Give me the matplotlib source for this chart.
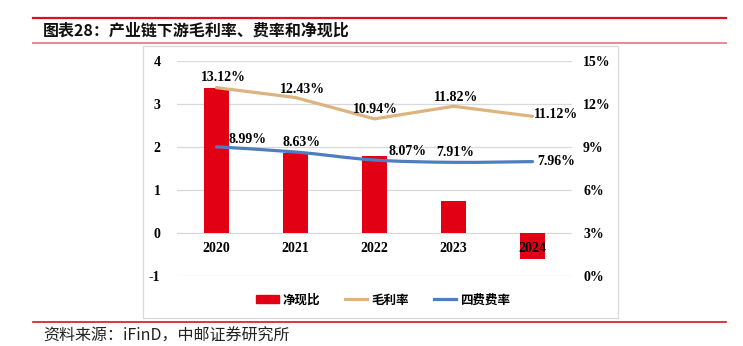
import matplotlib
matplotlib.use("Agg")
import matplotlib.pyplot as plt
from matplotlib.path import Path
from matplotlib.patches import PathPatch, Rectangle
from matplotlib.lines import Line2D
from matplotlib.patches import Patch
import numpy as np

# ---- data ----
years = ["2020", "2021", "2022", "2023", "2024"]
net_cash_ratio = [3.36, 1.86, 1.78, 0.73, -0.62]      # 净现比 (left axis)
gross_margin = [13.12, 12.43, 10.94, 11.82, 11.12]    # 毛利率 (%)
expense_rate = [8.99, 8.63, 8.07, 7.91, 7.96]         # 四费费率 (%)
left_ticks = [-1, 0, 1, 2, 3, 4]
right_ticks = [0, 3, 6, 9, 12, 15]

title = "图表28：产业链下游毛利率、费率和净现比"
source = "资料来源：iFinD，中邮证券研究所"

RED = "#E10014"
TAN = "#DDB47F"
BLUE = "#4E7EC0"
GRID = "#D9D9D9"
CJK = ["Noto Sans CJK SC", "DejaVu Sans"]
SERIF = "Liberation Serif"

W, H = 743, 346
fig = plt.figure(figsize=(W / 100, H / 100), dpi=100)

def fx(px):
    return px / W

def fy(py):
    return 1 - py / H

# header / footer decorations
fig.add_artist(Line2D([fx(33), fx(726)], [fy(17.5), fy(17.5)], color="#D0161E", lw=1.6))
fig.add_artist(Line2D([fx(33), fx(726)], [fy(43), fy(43)], color="#E58A8E", lw=1.4))
fig.add_artist(Line2D([fx(33), fx(726)], [fy(322), fy(322)], color="#D0161E", lw=1.2))
fig.text(fx(43), fy(31), title, family=CJK, fontsize=11.5, fontweight="bold",
         va="center", ha="left", color="#111111")
fig.text(fx(43), fy(336), source, family=CJK, fontsize=11.5, va="center",
         ha="left", color="#222222")

# chart box
fig.add_artist(Rectangle((fx(143), fy(318)), fx(618) - fx(143), fy(46) - fy(318),
                         fill=False, edgecolor="#D9D9D9", lw=0.9))

# axes
left, right = 177, 572
top, bottom = 60.7, 275.7
ax = fig.add_axes([fx(left), fy(bottom), fx(right) - fx(left), fy(top) - fy(bottom)])
ax2 = ax.twinx()

x = np.arange(len(years))
ax.set_xlim(-0.5, len(years) - 0.5)
ax.set_ylim(-1, 4)
ax2.set_ylim(0, 15)
ax.set_yticks(left_ticks)
ax.set_yticklabels([str(t) for t in left_ticks])
ax2.set_yticks(right_ticks)
ax2.set_yticklabels([f"{t}%" for t in right_ticks])
ax.set_xticks([])
for a in (ax, ax2):
    for s in a.spines.values():
        s.set_visible(False)
    a.patch.set_visible(False)
ax.tick_params(axis="y", length=0, pad=12)
ax2.tick_params(axis="y", length=0, pad=8)
for lab in ax.get_yticklabels() + ax2.get_yticklabels():
    lab.set_fontfamily(SERIF)
    lab.set_fontweight("bold")
    lab.set_fontsize(10)
for t in left_ticks:
    ax.axhline(t, color=GRID, lw=0.9, zorder=0)

ax.bar(x, net_cash_ratio, width=0.31, color=RED, zorder=2)

for i, yr in enumerate(years):
    ax.annotate(yr, (i, 0), xytext=(0, -11.5), textcoords="offset points",
                ha="center", va="center", fontfamily=SERIF, fontweight="bold",
                fontsize=10, zorder=5, annotation_clip=False)

# 毛利率: straight segments
ax2.plot(x, gross_margin, color=TAN, lw=2.3, solid_capstyle="round", zorder=3)

# 四费费率: smoothed line (Bezier through data points)
pts = np.column_stack([x, expense_rate]).astype(float)
verts = [tuple(pts[0])]
codes = [Path.MOVETO]
n = len(pts)
for i in range(n - 1):
    p0 = pts[max(i - 1, 0)]
    p1 = pts[i]
    p2 = pts[i + 1]
    p3 = pts[min(i + 2, n - 1)]
    c1 = p1 + (p2 - p0) / 6
    c2 = p2 - (p3 - p1) / 6
    verts += [tuple(c1), tuple(c2), tuple(p2)]
    codes += [Path.CURVE4] * 3
ax2.add_patch(PathPatch(Path(verts, codes), fill=False, edgecolor=BLUE, lw=2.3,
                        capstyle="round", zorder=3))

lab_kw = dict(textcoords="offset points", fontfamily=SERIF, fontweight="bold",
              fontsize=10, zorder=6, annotation_clip=False)
gm_off = [(5, 7.5), (5, 6), (1, 7), (2, 6), (17, 1)]
er_off = [(22, 5), (4, 7), (24, 6), (1, 7), (17, 0)]
for i, v in enumerate(gross_margin):
    ox, oy = gm_off[i]
    ax2.annotate(f"{v:.2f}%", (i, v), xytext=(ox, oy), ha="center", va="center", **lab_kw)
for i, v in enumerate(expense_rate):
    ox, oy = er_off[i]
    ax2.annotate(f"{v:.2f}%", (i, v), xytext=(ox, oy), ha="center", va="center", **lab_kw)

handles = [Patch(facecolor=RED, edgecolor=RED),
           Line2D([], [], color=TAN, lw=2.3),
           Line2D([], [], color=BLUE, lw=2.3)]
leg = fig.legend(handles, ["净现比", "毛利率", "四费费率"], loc="center",
                 bbox_to_anchor=(fx(383), fy(300)), ncol=3, frameon=False,
                 prop={"family": CJK, "size": 9, "weight": "bold"},
                 handlelength=1.8, handleheight=0.6, columnspacing=2.0, handletextpad=0.3)

fig.savefig("out.png", dpi=100)
